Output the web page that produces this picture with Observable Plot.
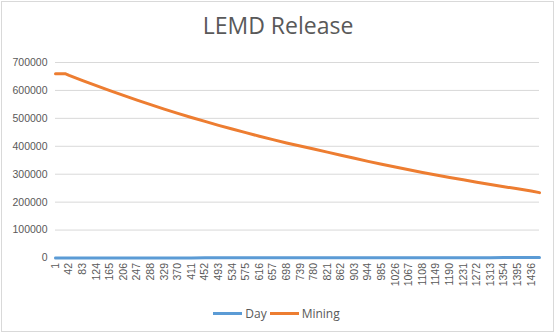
<!DOCTYPE html>
<html>
<head>
<meta charset="utf-8">
<script src="https://cdn.jsdelivr.net/npm/d3@7"></script>
<script src="https://cdn.jsdelivr.net/npm/@observablehq/plot@0.6"></script>
<style>
  body { margin: 0; background: #fff; }
  #wrap { position: relative; width: 556px; height: 334px; background: #fff; overflow: hidden; }
  #frame { position: absolute; left: 1px; top: 1px; width: 551px; height: 329px; border: 1px solid #d9d9d9; pointer-events: none; }
  #title { height: 50px; box-sizing: border-box; padding-top: 14px; text-align: center; font-family: "Open Sans", sans-serif; font-size: 23px; line-height: 23px; color: #595959; }
  #chart svg { display: block; }
  #legend { display: flex; justify-content: center; align-items: center; height: 26px; font-family: "Open Sans", sans-serif; font-size: 12px; color: #595959; }
  .sw { display: inline-block; width: 29px; height: 3px; margin-right: 3px; }
  .item { display: flex; align-items: center; margin-right: 3px; }
</style>
</head>
<body>
<div id="wrap">
  <div id="frame"></div>
  <div id="title">LEMD Release</div>
  <div id="chart"></div>
  <div id="legend"></div>
</div>
<script>
// Category tick labels shown on the x axis
const tickDays = [1, 42, 83, 124, 165, 206, 247, 288, 329, 370, 411, 452, 493, 534, 575, 616, 657, 698, 739, 780, 821, 862, 903, 944, 985, 1026, 1067, 1108, 1149, 1190, 1231, 1272, 1313, 1354, 1395, 1436];

const sampleDays = [1, 30, 42, 83, 124, 165, 206, 247, 288, 329, 370, 411, 452, 493, 534, 575, 616, 657, 698, 739, 780, 821, 862, 903, 944, 985, 1026, 1067, 1108, 1149, 1190, 1231, 1272, 1313, 1354, 1395, 1436, 1461];

// Series "Day" (the day number itself, which sits on the zero line at this scale)
const dayValues = [1, 30, 42, 83, 124, 165, 206, 247, 288, 329, 370, 411, 452, 493, 534, 575, 616, 657, 698, 739, 780, 821, 862, 903, 944, 985, 1026, 1067, 1108, 1149, 1190, 1231, 1272, 1313, 1354, 1395, 1436, 1461];

// Series "Mining"
const miningValues = [660000, 660000, 654000, 635000, 617000, 599000, 582000, 565000, 549000, 533000, 518000, 503000, 489000, 475000, 462000, 449000, 436000, 424000, 412000, 401000, 390000, 379000, 368000, 357000, 346000, 336000, 326000, 316000, 306000, 297000, 288000, 280000, 271000, 263000, 255000, 248000, 240000, 234000];

const yTicks = [0, 100000, 200000, 300000, 400000, 500000, 600000, 700000];

const seriesNames = ["Day", "Mining"];
const seriesColors = ["#5b9bd5", "#ed7d31"];

const dayRows = sampleDays.map((d, i) => ({ day: d, value: dayValues[i] }));
const miningRows = sampleDays.map((d, i) => ({ day: d, value: miningValues[i] }));

const chart = Plot.plot({
  width: 556,
  height: 250,
  marginTop: 12,
  marginLeft: 55,
  marginRight: 17,
  marginBottom: 42.5,
  style: { fontFamily: "'Liberation Sans', Arial, sans-serif", fontSize: "10.5px", color: "#595959", background: "transparent" },
  x: { type: "linear", domain: [1, 1461], ticks: tickDays, tickFormat: d => String(d), tickRotate: -90, tickSize: 0, tickPadding: 5, label: null },
  y: { domain: [0, 700000], ticks: yTicks, tickFormat: d => String(d), tickSize: 0, tickPadding: 8, label: null },
  marks: [
    Plot.gridY(yTicks, { stroke: "#d9d9d9", strokeOpacity: 1, strokeWidth: 1 }),
    Plot.line(dayRows, { x: "day", y: "value", stroke: seriesColors[0], strokeWidth: 3 }),
    Plot.line(miningRows, { x: "day", y: "value", stroke: seriesColors[1], strokeWidth: 3 })
  ]
});
document.getElementById("chart").appendChild(chart);

const legend = document.getElementById("legend");
seriesNames.forEach((n, i) => {
  const item = document.createElement("span");
  item.className = "item";
  const sw = document.createElement("span");
  sw.className = "sw";
  sw.style.background = seriesColors[i];
  item.appendChild(sw);
  const t = document.createElement("span");
  t.textContent = n;
  item.appendChild(t);
  legend.appendChild(item);
});
</script>
</body>
</html>
